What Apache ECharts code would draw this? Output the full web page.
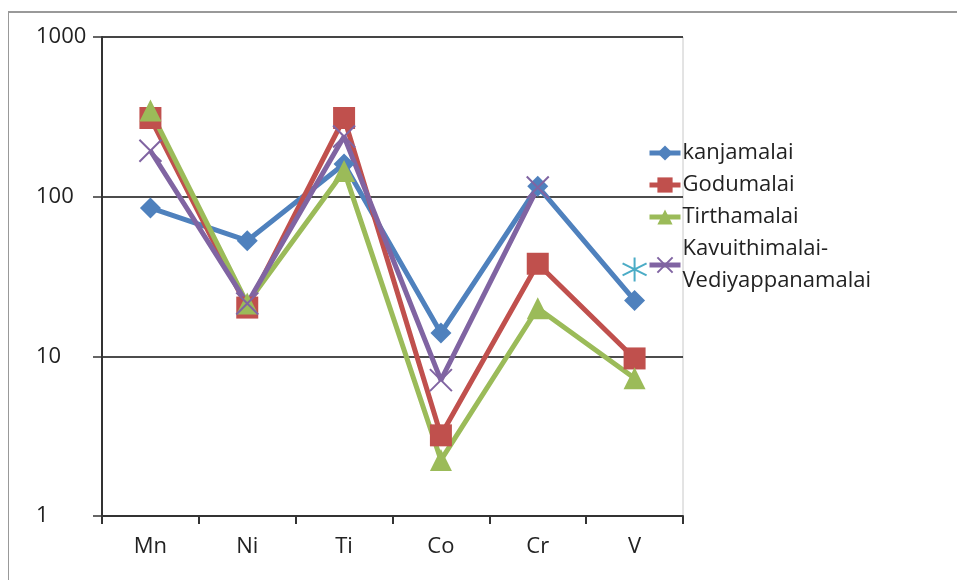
<!DOCTYPE html>
<html><head><meta charset="utf-8">
<script src="https://cdn.jsdelivr.net/npm/echarts@6/dist/echarts.min.js"></script>
<style>html,body{margin:0;padding:0;background:#fff}#frame{position:absolute;left:8px;top:11px;width:960px;height:580px;border-left:1.5px solid #999;border-top:2px solid #999}#c{position:absolute;left:0;top:0;width:957px;height:580px}</style>
</head><body><div id="frame"></div><div id="c"></div>
<script>
const categories = ['Mn','Ni','Ti','Co','Cr','V'];
const kanjamalai = [85, 53, 160, 14, 116, 22.4];
const godumalai = [311, 20.2, 311, 3.2, 38, 9.7];
const tirthamalai = [346, 21.4, 145, 2.24, 20, 7.3];
const kavuithimalai = [194, 21.4, 238, 7.1, 114, null];
const extraV = [null, null, null, null, null, 35];
const yTicks = [1, 10, 100, 1000];

const FONT = '"Open Sans", "Liberation Sans", sans-serif';
const chart = echarts.init(document.getElementById('c'));
const xPath = 'path://M0 0L10 10M10 0L0 10';
const starPath = 'path://M5 0L5 10M0.7 2.5L9.3 7.5M0.7 7.5L9.3 2.5';
function lineSeries(name, data, color, symbol, size, extra) {
  return Object.assign({
    name, type: 'line', data, symbol, symbolSize: size,
    lineStyle: { color, width: 5 },
    itemStyle: { color, borderColor: color, borderWidth: 0 },
    showSymbol: true, connectNulls: false, animation: false
  }, extra || {});
}
chart.setOption({
  animation: false,
  grid: { left: 102, right: 274, top: 37, bottom: 64, show: true, borderColor: '#c8c8c8', borderWidth: 1, backgroundColor: 'transparent' },
  legend: {
    data: ['kanjamalai','Godumalai','Tirthamalai','Kavuithimalai-\nVediyappanamalai'],
    orient: 'vertical', left: 647, top: 137, itemGap: 0, itemWidth: 31, itemHeight: 19, padding: 0,
    lineStyle: { width: 5 },
    textStyle: { fontFamily: FONT, fontSize: 22, color: '#222', lineHeight: 32, padding: [0, 0, 0, -3] }
  },
  xAxis: {
    type: 'category', data: categories, boundaryGap: true,
    axisLine: { lineStyle: { color: '#333', width: 2 } },
    axisTick: { show: true, length: 8, lineStyle: { color: '#333', width: 2 } },
    axisLabel: { fontFamily: FONT, fontSize: 22, color: '#222', margin: 20 }
  },
  yAxis: {
    type: 'log', logBase: 10, min: 1, max: 1000,
    axisLine: { show: true, lineStyle: { color: '#333', width: 2 } },
    axisTick: { show: true, length: 9, lineStyle: { color: '#333', width: 1.5 } },
    axisLabel: { fontFamily: FONT, fontSize: 22, color: '#222', margin: 66, align: 'left',
      formatter: v => yTicks.includes(Math.round(v)) ? String(Math.round(v)) : '' },
    splitLine: { show: true, lineStyle: { color: '#111', width: 1.5 } },
    minorTick: { show: false }
  },
  series: [
    lineSeries('kanjamalai', kanjamalai, '#4F81BD', 'diamond', 21),
    lineSeries('Godumalai', godumalai, '#C0504D', 'rect', 22),
    lineSeries('Tirthamalai', tirthamalai, '#9BBB59', 'triangle', 22),
    lineSeries('Kavuithimalai-\nVediyappanamalai', kavuithimalai, '#8064A2', xPath, 22,
      { itemStyle: { color: 'none', borderColor: '#8064A2', borderWidth: 2 } }),
    lineSeries('extra', extraV, '#4BACC6', starPath, 24,
      { itemStyle: { color: 'none', borderColor: '#4BACC6', borderWidth: 2 } })
  ]
});
</script></body></html>
